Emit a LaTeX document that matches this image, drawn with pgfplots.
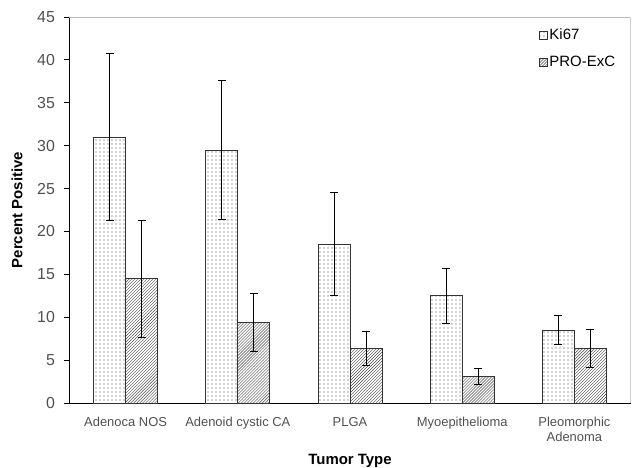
\documentclass[border=0pt]{standalone}
\usepackage{pgfplots}
\pgfplotsset{compat=1.18}
\usepackage{fontspec}
\setmainfont{Liberation Sans}
\usetikzlibrary{patterns}
\definecolor{tickgray}{RGB}{80,80,80}
\definecolor{framegray}{RGB}{185,185,185}
\pgfdeclarepatternformonly{sparsedots}{\pgfqpoint{-1bp}{-1bp}}{\pgfqpoint{1bp}{1bp}}{\pgfqpoint{4bp}{4bp}}{%
  \pgfpathcircle{\pgfqpoint{0bp}{0bp}}{0.7bp}\pgfusepath{fill}}
\begin{document}
\begin{tikzpicture}
\begin{axis}[
  name=ax,
  scale only axis,
  width=561bp, height=386bp,
  xmin=-0.5, xmax=4.5,
  ymin=0, ymax=45,
  ytick={0,5,...,45},
  xtick={0,1,2,3,4},
  xticklabels={Adenoca NOS,Adenoid cystic CA,PLGA,Myoepithelioma,{Pleomorphic\\Adenoma}},
  major x tick style={draw=none},
  extra x ticks={0.5,1.5,2.5,3.5},
  extra x tick labels={},
  extra x tick style={major tick length=5bp, tick style={black, line width=0.8pt}, tick align=outside},
  tick align=outside,
  major tick length=5bp,
  y tick style={black, line width=0.8pt},
  axis x line*=bottom,
  axis y line*=left,
  axis line style={black, line width=0.9pt, -},
  x tick label style={font=\fontsize{13}{14.5}\selectfont, text=tickgray, align=center, yshift=-6bp},
  y tick label style={font=\fontsize{16}{18}\selectfont, text=tickgray, xshift=-6bp},
  /pgf/number format/assume math mode=true,
  xlabel={\textbf{Tumor Type}},
  ylabel={\textbf{Percent Positive}},
  xlabel style={font=\fontsize{15}{17}\selectfont, yshift=4bp},
  ylabel style={font=\fontsize{15}{17}\selectfont, yshift=8bp},
  ybar,
  bar width=32bp,
  legend style={draw=none, fill=none, at={(0.836,0.975)}, anchor=north west,
    font=\fontsize{15}{17}\selectfont, row sep=11bp, inner sep=0pt},
  legend cell align=left,
  legend image code/.code={\draw[#1, line width=0.8pt] (0bp,-4bp) rectangle (8bp,4bp);},
  error bars/error bar style={black, line width=0.8pt},
  error bars/error mark options={rotate=90, mark size=4bp, line width=0.8pt, black},
]
\addplot[bar shift=-16bp, draw=black!80, line width=0.8pt, pattern=sparsedots, pattern color=black!75,
  error bars/.cd, y dir=both, y explicit]
  coordinates {(0,31.0) +- (0,9.7) (1,29.5) +- (0,8.1) (2,18.5) +- (0,6.0) (3,12.5) +- (0,3.2) (4,8.5) +- (0,1.7)};
\addlegendentry{Ki67}
\addplot[bar shift=16bp, draw=black!80, line width=0.8pt, pattern=north east lines, pattern color=black!70,
  error bars/.cd, y dir=both, y explicit]
  coordinates {(0,14.5) +- (0,6.8) (1,9.4) +- (0,3.4) (2,6.4) +- (0,2.0) (3,3.1) +- (0,0.9) (4,6.4) +- (0,2.2)};
\addlegendentry{PRO-ExC}
\draw[framegray, line width=0.8pt] (rel axis cs:0,1) -- (rel axis cs:1,1) -- (rel axis cs:1,0);
\end{axis}
\pgfresetboundingbox
\path (ax.south west) ++(-69.5bp,-65bp) coordinate (bl);
\path (ax.north east) ++(1.5bp,17bp) coordinate (tr);
\useasboundingbox (bl) rectangle (tr);
\end{tikzpicture}
\end{document}
